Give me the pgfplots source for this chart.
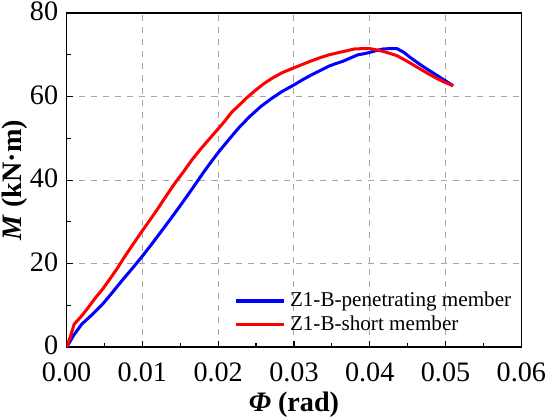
\documentclass[border=0pt]{standalone}
\usepackage{fontspec}
\setmainfont{Liberation Serif}
\usepackage{pgfplots}
\pgfplotsset{compat=1.18}
\begin{document}
\begin{tikzpicture}
\begin{axis}[
  scale only axis,
  width=226pt, height=166pt,
  xmin=0, xmax=0.06, ymin=0, ymax=80,
  xtick={0,0.01,...,0.06}, ytick={0,20,40,60,80},
  minor x tick num=1, minor y tick num=1,
  xtick pos=left, ytick pos=left,
  tick align=inside,
  major tick length=3pt, minor tick length=2pt,
  axis line style={line width=0.7pt},
  every tick/.style={black, line width=0.6pt},
  grid=major,
  major grid style={dashed, gray!70, line width=0.5pt},
  /pgf/number format/assume math mode=true,
  ticklabel style={font=\fontsize{14}{16}\selectfont, inner sep=1pt},
  xticklabel style={yshift=-6.5pt, /pgf/number format/.cd, fixed, fixed zerofill, precision=2},
  yticklabel style={xshift=-3pt, yshift=0.8pt, /pgf/number format/.cd, fixed},
  scaled x ticks=false,
  xlabel={\textbf{\textit{Φ} (rad)}},
  ylabel={\textbf{\textit{M} (kN·m)}},
  label style={font=\fontsize{14}{16}\selectfont, inner sep=1pt},
  xlabel style={yshift=-3pt},
  ylabel style={yshift=-1pt},
  legend style={at={(0.355,0.19)}, anchor=north west, draw=none, fill=none,
    font=\fontsize{10.5}{12}\selectfont, row sep=-1pt},
  legend cell align=left,
  legend image code/.code={\draw[#1, line width=1.6pt] (0pt,0pt) -- (24pt,0pt);},
]
\addplot[blue, line width=1.5pt] coordinates {
(0,0) (0.001,3.0) (0.002,5.5) (0.0035,8.0) (0.0048,10.4) (0.006,13.0) (0.0072,15.7) (0.0086,18.7) (0.01,21.8)
(0.0112,24.6) (0.0124,27.5) (0.0138,30.9) (0.0152,34.4) (0.0166,38.0) (0.018,41.7) (0.019,44.2)
(0.02,46.6) (0.0214,49.7) (0.0228,52.7) (0.0242,55.3) (0.0256,57.6) (0.027,59.5) (0.0284,61.2)
(0.03,62.8) (0.0311,64.0) (0.0322,65.1) (0.0334,66.2) (0.0346,67.3) (0.0355,67.9) (0.0365,68.5)
(0.0375,69.3) (0.0384,70.0) (0.0393,70.3) (0.04,70.6) (0.0408,71.0) (0.0417,71.4) (0.0426,71.5)
(0.0436,71.5) (0.0445,70.6) (0.0454,69.3) (0.0464,68.0) (0.0473,66.9) (0.0492,64.7) (0.051,62.6)
};
\addlegendentry{Z1-B-penetrating member}
\addplot[red, line width=1.5pt] coordinates {
(0,0) (0.0005,2.5) (0.001,5.5) (0.002,7.5) (0.0029,9.6) (0.0038,11.8) (0.0048,14.0) (0.0057,16.3) (0.0067,18.9)
(0.0076,21.5) (0.0086,24.2) (0.01,27.9) (0.0109,30.2) (0.0119,32.8) (0.0131,36.1) (0.0143,39.3)
(0.0155,42.2) (0.0166,45.0) (0.0178,47.7) (0.019,50.2) (0.02,52.3) (0.0209,54.2) (0.0218,56.3)
(0.0228,58.0) (0.0237,59.6) (0.0249,61.5) (0.0261,63.2) (0.0272,64.5) (0.0284,65.7) (0.03,66.9)
(0.0311,67.7) (0.0322,68.5) (0.0334,69.3) (0.0346,70.0) (0.036,70.6) (0.037,71.0) (0.0379,71.4)
(0.039,71.5) (0.04,71.5) (0.0412,71.1) (0.0424,70.5) (0.0436,69.8) (0.045,68.4) (0.0464,66.9)
(0.0476,65.6) (0.0487,64.5) (0.0498,63.5) (0.051,62.6)
};
\addlegendentry{Z1-B-short member}
\end{axis}
\end{tikzpicture}
\end{document}
